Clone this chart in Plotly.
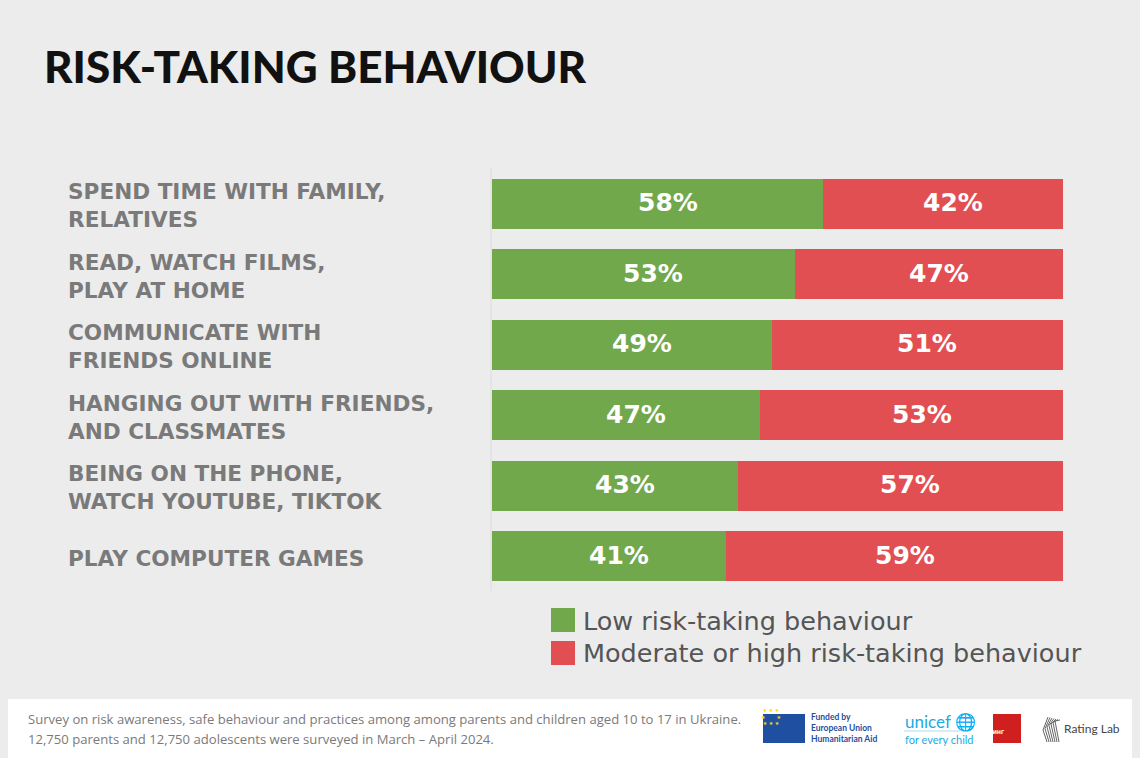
import plotly.graph_objects as go

categories = [
    "SPEND TIME WITH FAMILY,<br>RELATIVES",
    "READ, WATCH FILMS,<br>PLAY AT HOME",
    "COMMUNICATE WITH<br>FRIENDS ONLINE",
    "HANGING OUT WITH FRIENDS,<br>AND CLASSMATES",
    "BEING ON THE PHONE,<br>WATCH YOUTUBE, TIKTOK",
    "PLAY COMPUTER GAMES",
]
low_risk = [58, 53, 49, 47, 43, 41]
high_risk = [42, 47, 51, 53, 57, 59]
series_names = ["Low risk-taking behaviour", "Moderate or high risk-taking behaviour"]
footer_lines = [
    "Survey on risk awareness, safe behaviour and practices among among parents and children aged 10 to 17 in Ukraine.",
    "12,750 parents and 12,750 adolescents were surveyed in March – April 2024.",
]

GREEN = "#72A84C"
RED = "#E14F52"
BG = "#ECECEC"
W, H = 1140, 758

def px_x(p):
    return p / W

def px_y(p):
    return 1 - p / H

ypos = list(range(len(categories)))

fig = go.Figure()
fig.add_trace(go.Bar(y=ypos, x=low_risk, orientation="h", name=series_names[0],
                     marker=dict(color=GREEN, line=dict(width=0)), hoverinfo="x"))
fig.add_trace(go.Bar(y=ypos, x=high_risk, orientation="h", name=series_names[1],
                     marker=dict(color=RED, line=dict(width=0)), hoverinfo="x"))

annotations = []
VAL_FONT = dict(family="DejaVu Sans", size=25, color="white", weight="bold")
for i in ypos:
    annotations.append(dict(x=low_risk[i] / 2, y=i, xref="x", yref="y", text=f"{low_risk[i]}%",
                            showarrow=False, xshift=10, yshift=1, font=VAL_FONT))
    annotations.append(dict(x=low_risk[i] + high_risk[i] / 2, y=i, xref="x", yref="y",
                            text=f"{high_risk[i]}%", showarrow=False, xshift=10, yshift=1,
                            font=VAL_FONT))
    annotations.append(dict(x=px_x(66), y=i, xref="paper", yref="y", text=categories[i],
                            showarrow=False, xanchor="left", yanchor="middle", align="left",
                            yshift=-2,
                            font=dict(family="DejaVu Sans", size=21.6, color="#7A7A7A",
                                      weight="bold")))

# title
annotations.append(dict(x=px_x(42), y=px_y(66), xref="paper", yref="paper",
                        text="RISK-TAKING BEHAVIOUR", showarrow=False, xanchor="left",
                        yanchor="middle",
                        font=dict(family="Lato", size=44, color="#111111", weight=900)))

# legend texts
for yy, name in zip([621, 653], series_names):
    annotations.append(dict(x=px_x(581), y=px_y(yy), xref="paper", yref="paper", text=name,
                            showarrow=False, xanchor="left", yanchor="middle",
                            font=dict(family="DejaVu Sans", size=25.5, color="#555555")))

# footer text
for yy, line in zip([719, 739], footer_lines):
    annotations.append(dict(x=px_x(26), y=px_y(yy), xref="paper", yref="paper",
                            text=line, showarrow=False, xanchor="left", yanchor="middle",
                            font=dict(family="Open Sans", size=13.1, color="#7A7A7A")))
# EU logo text
annotations.append(dict(x=px_x(809), y=px_y(728), xref="paper", yref="paper",
                        text="Funded by<br>European Union<br>Humanitarian Aid",
                        showarrow=False, xanchor="left", yanchor="middle", align="left",
                        font=dict(family="Lato", size=8.5, color="#1F4FA0", weight="bold")))
annotations.append(dict(x=px_x(784), y=px_y(728), xref="paper", yref="paper",
                        text="★ ★ ★<br>★       ★<br>★ ★ ★", showarrow=False,
                        font=dict(family="DejaVu Sans", size=5, color="#FFD700")))
# unicef
annotations.append(dict(x=px_x(903), y=px_y(721), xref="paper", yref="paper",
                        text="unicef 🌐", showarrow=False, xanchor="left", yanchor="middle",
                        font=dict(family="Lato", size=17, color="#1CABE2")))
annotations.append(dict(x=px_x(903), y=px_y(739), xref="paper", yref="paper",
                        text="for every child", showarrow=False, xanchor="left", yanchor="middle",
                        font=dict(family="Lato", size=11, color="#1CABE2")))
# rating
annotations.append(dict(x=px_x(1007), y=px_y(737), xref="paper", yref="paper",
                        text="РЕЙТИНГ", showarrow=False,
                        font=dict(family="DejaVu Sans", size=5, color="white", weight="bold")))
annotations.append(dict(x=px_x(1062), y=px_y(728), xref="paper", yref="paper",
                        text="Rating Lab", showarrow=False, xanchor="left", yanchor="middle",
                        font=dict(family="Lato", size=12, color="#444444")))

shapes = [
    dict(type="rect", xref="paper", yref="paper", x0=px_x(8), x1=px_x(1132), y0=px_y(758),
         y1=px_y(699), fillcolor="white", line=dict(width=0), layer="below"),
    dict(type="line", xref="paper", yref="paper", x0=px_x(491), x1=px_x(491), y0=px_y(591),
         y1=px_y(168), line=dict(color="#DCDCDC", width=1)),
    dict(type="rect", xref="paper", yref="paper", x0=px_x(551), x1=px_x(575), y0=px_y(632),
         y1=px_y(608), fillcolor=GREEN, line=dict(width=0)),
    dict(type="rect", xref="paper", yref="paper", x0=px_x(551), x1=px_x(575), y0=px_y(665),
         y1=px_y(641), fillcolor=RED, line=dict(width=0)),
    dict(type="rect", xref="paper", yref="paper", x0=px_x(763), x1=px_x(805), y0=px_y(743),
         y1=px_y(714), fillcolor="#1F4FA0", line=dict(width=0)),
    dict(type="line", xref="paper", yref="paper", x0=px_x(904), x1=px_x(960), y0=px_y(731),
         y1=px_y(731), line=dict(color="#A8DDF2", width=1)),
    dict(type="rect", xref="paper", yref="paper", x0=px_x(993), x1=px_x(1021), y0=px_y(743),
         y1=px_y(714), fillcolor="#D01F1F", line=dict(width=0)),
]
for j in range(7):
    x0 = 1043 + j * 2
    shapes.append(dict(type="line", xref="paper", yref="paper", x0=px_x(x0), x1=px_x(x0 + 5),
                       y0=px_y(730 - j * 1.5), y1=px_y(717 + j * 0.5),
                       line=dict(color="#666666", width=1)))
    shapes.append(dict(type="line", xref="paper", yref="paper", x0=px_x(x0), x1=px_x(x0 + 4),
                       y0=px_y(730 - j * 1.5), y1=px_y(742),
                       line=dict(color="#666666", width=1)))

fig.update_layout(
    width=W, height=H,
    margin=dict(l=0, r=0, t=0, b=0),
    paper_bgcolor=BG, plot_bgcolor=BG,
    barmode="stack", bargap=0.29,
    showlegend=False,
    xaxis=dict(domain=[px_x(492), px_x(1063)], range=[0, 100], visible=False, fixedrange=True),
    yaxis=dict(domain=[px_y(591.25), px_y(168.75)], range=[5.5, -0.5], visible=False,
               fixedrange=True),
    annotations=annotations,
    shapes=shapes,
)

fig.write_html("out.html", config={"displayModeBar": False})
